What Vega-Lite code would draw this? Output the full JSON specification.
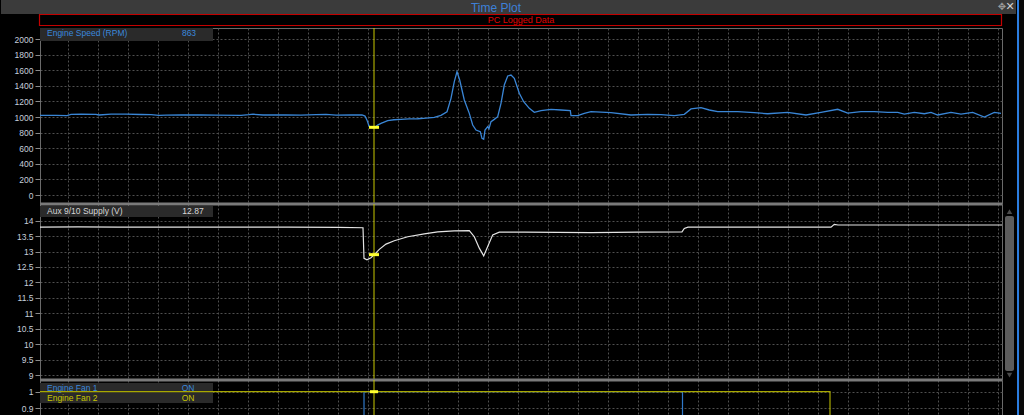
{
  "$schema": "https://vega.github.io/schema/vega-lite/v6.json",
  "background": "#000000",
  "padding": 0,
  "spacing": 0,
  "bounds": "flush",
  "resolve": {"scale": {"x": "independent", "y": "independent"}},
  "config": {
    "view": {"stroke": null},
    "font": "Liberation Sans",
    "axis": {"domain": false, "gridColor": "#4f4f4f", "gridDash": [2, 2], "gridWidth": 1, "tickColor": "#8a8a8a", "tickSize": 5, "labelColor": "#c6cedb", "labelFontSize": 8.5, "labelFont": "Liberation Sans", "labelPadding": 2, "title": null, "labelOverlap": false, "labelBound": false},
    "axisY": {"minExtent": 39, "maxExtent": 39}
  },
  "datasets": {
    "rpm": [
      {"t": 2, "rpm": 1020}, {"t": 18, "rpm": 1020}, {"t": 29, "rpm": 1018}, {"t": 33, "rpm": 1034}, {"t": 43, "rpm": 1036}, {"t": 58, "rpm": 1034}, {"t": 61, "rpm": 1026}, {"t": 73, "rpm": 1036}, {"t": 88, "rpm": 1036}, {"t": 103, "rpm": 1032}, {"t": 113, "rpm": 1030}, {"t": 121, "rpm": 1020}, {"t": 128, "rpm": 1024}, {"t": 143, "rpm": 1026}, {"t": 163, "rpm": 1026}, {"t": 178, "rpm": 1024}, {"t": 203, "rpm": 1022}, {"t": 211, "rpm": 1030}, {"t": 215, "rpm": 1036}, {"t": 225, "rpm": 1026}, {"t": 248, "rpm": 1026}, {"t": 263, "rpm": 1024}, {"t": 278, "rpm": 1030}, {"t": 288, "rpm": 1034}, {"t": 298, "rpm": 1024}, {"t": 313, "rpm": 1026}, {"t": 324, "rpm": 1026}, {"t": 327, "rpm": 1012}, {"t": 329, "rpm": 960}, {"t": 331, "rpm": 885}, {"t": 334, "rpm": 866}, {"t": 337, "rpm": 868}, {"t": 340, "rpm": 900}, {"t": 343, "rpm": 919}, {"t": 349.7, "rpm": 953}, {"t": 356, "rpm": 965}, {"t": 363, "rpm": 970}, {"t": 371, "rpm": 975}, {"t": 379.7, "rpm": 978}, {"t": 388, "rpm": 985}, {"t": 396.3, "rpm": 996}, {"t": 403, "rpm": 1021}, {"t": 409, "rpm": 1068}, {"t": 413, "rpm": 1239}, {"t": 416.3, "rpm": 1453}, {"t": 419, "rpm": 1581}, {"t": 421.7, "rpm": 1474}, {"t": 426.3, "rpm": 1218}, {"t": 431.3, "rpm": 1047}, {"t": 434.7, "rpm": 897}, {"t": 438, "rpm": 833}, {"t": 442.3, "rpm": 812}, {"t": 444, "rpm": 726}, {"t": 445.7, "rpm": 714}, {"t": 447, "rpm": 833}, {"t": 449.7, "rpm": 876}, {"t": 451, "rpm": 850}, {"t": 453, "rpm": 940}, {"t": 456.3, "rpm": 970}, {"t": 459.7, "rpm": 1004}, {"t": 463, "rpm": 1175}, {"t": 466.3, "rpm": 1410}, {"t": 469.7, "rpm": 1526}, {"t": 473, "rpm": 1538}, {"t": 476.3, "rpm": 1496}, {"t": 481.3, "rpm": 1304}, {"t": 485.7, "rpm": 1196}, {"t": 491.3, "rpm": 1111}, {"t": 496.3, "rpm": 1060}, {"t": 503, "rpm": 1081}, {"t": 513, "rpm": 1099}, {"t": 523, "rpm": 1090}, {"t": 532.3, "rpm": 1081}, {"t": 533, "rpm": 1017}, {"t": 539.7, "rpm": 1017}, {"t": 546.3, "rpm": 1047}, {"t": 553, "rpm": 1068}, {"t": 573, "rpm": 1055}, {"t": 593, "rpm": 1026}, {"t": 609.7, "rpm": 1034}, {"t": 623, "rpm": 1030}, {"t": 636.3, "rpm": 1017}, {"t": 646.3, "rpm": 1034}, {"t": 653, "rpm": 1103}, {"t": 663, "rpm": 1120}, {"t": 671.3, "rpm": 1090}, {"t": 679.7, "rpm": 1068}, {"t": 699.7, "rpm": 1068}, {"t": 716.3, "rpm": 1055}, {"t": 729.7, "rpm": 1042}, {"t": 749.7, "rpm": 1060}, {"t": 768, "rpm": 1026}, {"t": 783, "rpm": 1060}, {"t": 799.7, "rpm": 1099}, {"t": 809.7, "rpm": 1051}, {"t": 823, "rpm": 1068}, {"t": 836.3, "rpm": 1068}, {"t": 849.7, "rpm": 1060}, {"t": 859.7, "rpm": 1060}, {"t": 866.3, "rpm": 1038}, {"t": 876.3, "rpm": 1060}, {"t": 886.3, "rpm": 1042}, {"t": 893, "rpm": 1060}, {"t": 899.7, "rpm": 1026}, {"t": 913, "rpm": 1060}, {"t": 923, "rpm": 1038}, {"t": 934.7, "rpm": 1060}, {"t": 946.3, "rpm": 1000}, {"t": 956.3, "rpm": 1060}, {"t": 963, "rpm": 1047}
    ],
    "volt": [
      {"t": 2, "v": 13.79}, {"t": 40, "v": 13.8}, {"t": 80, "v": 13.79}, {"t": 150, "v": 13.79}, {"t": 250, "v": 13.79}, {"t": 300, "v": 13.78}, {"t": 325, "v": 13.77}, {"t": 326, "v": 12.78}, {"t": 329, "v": 12.73}, {"t": 333, "v": 12.8}, {"t": 336.3, "v": 12.9}, {"t": 341.3, "v": 13.07}, {"t": 348, "v": 13.24}, {"t": 356.3, "v": 13.35}, {"t": 369.7, "v": 13.48}, {"t": 386.3, "v": 13.57}, {"t": 399.7, "v": 13.64}, {"t": 416.3, "v": 13.67}, {"t": 431.3, "v": 13.68}, {"t": 436.3, "v": 13.48}, {"t": 441.3, "v": 13.11}, {"t": 445.7, "v": 12.86}, {"t": 449.7, "v": 13.16}, {"t": 454.7, "v": 13.54}, {"t": 461.3, "v": 13.63}, {"t": 486, "v": 13.63}, {"t": 553, "v": 13.61}, {"t": 600, "v": 13.63}, {"t": 644, "v": 13.64}, {"t": 646.3, "v": 13.75}, {"t": 650, "v": 13.79}, {"t": 700, "v": 13.79}, {"t": 793, "v": 13.79}, {"t": 796.3, "v": 13.88}, {"t": 800, "v": 13.86}, {"t": 964, "v": 13.86}
    ],
    "fan1": [
      {"t": 2, "on": 0}, {"t": 326, "on": 0}, {"t": 326.01, "on": 1}, {"t": 644.5, "on": 1}, {"t": 644.51, "on": 0}, {"t": 964, "on": 0}
    ],
    "fan2": [
      {"t": 2, "on": 1}, {"t": 792, "on": 1}, {"t": 792.01, "on": 0}, {"t": 964, "on": 0}
    ]
  },
  "vconcat": [
    {
      "width": 962,
      "height": 28,
      "view": {"stroke": null},
      "layer": [
        {"data": {"values": [{}]}, "mark": {"type": "rect", "color": "#3b3b3b"},
         "encoding": {"x": {"datum": -37, "type": "quantitative", "scale": {"domain": [2, 964], "nice": false, "zero": false}, "axis": null}, "x2": {"datum": 978}, "y": {"datum": 0, "type": "quantitative", "scale": {"domain": [0, 28], "reverse": true, "nice": false, "zero": false}, "axis": null}, "y2": {"datum": 14}}},
        {"data": {"values": [{}]}, "mark": {"type": "rect", "color": "#080808"},
         "encoding": {"x": {"datum": 981, "type": "quantitative"}, "x2": {"datum": 987}, "y": {"datum": 0, "type": "quantitative"}, "y2": {"datum": 415}}},
        {"data": {"values": [{}]}, "mark": {"type": "rect", "color": "#2b7de0"},
         "encoding": {"x": {"datum": 979, "type": "quantitative"}, "x2": {"datum": 981}, "y": {"datum": 0, "type": "quantitative"}, "y2": {"datum": 415}}},
        {"data": {"values": [{}]}, "mark": {"type": "rect", "fill": "#000000", "stroke": "#c40000", "strokeWidth": 1.2},
         "encoding": {"x": {"datum": 1.5, "type": "quantitative"}, "x2": {"datum": 963.5}, "y": {"datum": 14.5, "type": "quantitative"}, "y2": {"datum": 25.5}}},
        {"data": {"values": [{}]}, "mark": {"type": "text", "text": "Time Plot", "color": "#3d80d8", "fontSize": 12, "align": "center", "baseline": "middle", "font": "Liberation Sans"},
         "encoding": {"x": {"datum": 458, "type": "quantitative"}, "y": {"datum": 7.5, "type": "quantitative"}}},
        {"data": {"values": [{}]}, "mark": {"type": "text", "text": "PC Logged Data", "color": "#e00000", "fontSize": 9, "align": "center", "baseline": "middle", "font": "Liberation Sans"},
         "encoding": {"x": {"datum": 483, "type": "quantitative"}, "y": {"datum": 20, "type": "quantitative"}}},
        {"data": {"values": [{}]}, "mark": {"type": "text", "text": "✥", "color": "#9a9a9a", "fontSize": 10, "align": "center", "baseline": "middle", "font": "DejaVu Sans"},
         "encoding": {"x": {"datum": 964, "type": "quantitative"}, "y": {"datum": 6.5, "type": "quantitative"}}},
        {"data": {"values": [{}]}, "mark": {"type": "text", "text": "✕", "color": "#d0d0d0", "fontSize": 11, "align": "center", "baseline": "middle", "font": "DejaVu Sans", "fontWeight": "bold"},
         "encoding": {"x": {"datum": 972, "type": "quantitative"}, "y": {"datum": 6.5, "type": "quantitative"}}}
      ]
    },
    {
      "width": 962,
      "height": 176,
      "view": {"fill": "#000000", "stroke": "#6a6a6a", "strokeWidth": 1},
      "layer": [
        {"data": {"name": "rpm"}, "mark": {"type": "line", "color": "#3a86d6", "strokeWidth": 1.3, "clip": true},
         "encoding": {
           "x": {"field": "t", "type": "quantitative", "scale": {"domain": [2, 964], "nice": false, "zero": false}, "axis": {"values": [30, 60, 90, 120, 150, 180, 210, 240, 270, 300, 330, 360, 390, 420, 450, 480, 510, 540, 570, 600, 630, 660, 690, 720, 750, 780, 810, 840, 870, 900, 930, 960], "tickCount": 200, "grid": true, "labels": false, "ticks": false, "domain": false, "title": null}},
           "y": {"field": "rpm", "type": "quantitative", "scale": {"domain": [-115, 2141], "nice": false, "zero": false}, "axis": {"values": [0, 200, 400, 600, 800, 1000, 1200, 1400, 1600, 1800, 2000], "tickCount": 100, "format": "~f", "grid": true, "labelOverlap": false}}
         }},
        {"data": {"values": [{}]}, "mark": {"type": "rect", "color": "#2a2a2a"},
         "encoding": {"x": {"datum": 2, "type": "quantitative"}, "x2": {"datum": 175}, "y": {"datum": 2141, "type": "quantitative"}, "y2": {"datum": 1974}}},
        {"data": {"values": [{}]}, "mark": {"type": "text", "text": "Engine Speed (RPM)", "color": "#3a88dc", "fontSize": 8.5, "align": "left", "baseline": "middle"},
         "encoding": {"x": {"datum": 9, "type": "quantitative"}, "y": {"datum": 2083, "type": "quantitative"}}},
        {"data": {"values": [{}]}, "mark": {"type": "text", "text": "863", "color": "#3a88dc", "fontSize": 8.5, "align": "center", "baseline": "middle"},
         "encoding": {"x": {"datum": 151, "type": "quantitative"}, "y": {"datum": 2083, "type": "quantitative"}}},
        {"data": {"values": [{}]}, "mark": {"type": "rule", "color": "#c8c800", "strokeWidth": 1},
         "encoding": {"x": {"datum": 336, "type": "quantitative"}}},
        {"data": {"values": [{}]}, "mark": {"type": "rule", "color": "#ffff30", "strokeWidth": 3},
         "encoding": {"x": {"datum": 331, "type": "quantitative"}, "x2": {"datum": 341}, "y": {"datum": 868, "type": "quantitative"}}}
      ]
    },
    {
      "width": 962,
      "height": 176,
      "view": {"fill": "#000000", "stroke": "#6a6a6a", "strokeWidth": 1},
      "layer": [
        {"data": {"name": "volt"}, "mark": {"type": "line", "color": "#e4e4e4", "strokeWidth": 1.2, "clip": true},
         "encoding": {
           "x": {"field": "t", "type": "quantitative", "scale": {"domain": [2, 964], "nice": false, "zero": false}, "axis": {"values": [30, 60, 90, 120, 150, 180, 210, 240, 270, 300, 330, 360, 390, 420, 450, 480, 510, 540, 570, 600, 630, 660, 690, 720, 750, 780, 810, 840, 870, 900, 930, 960], "tickCount": 200, "grid": true, "labels": false, "ticks": false, "domain": false, "title": null}},
           "y": {"field": "v", "type": "quantitative", "scale": {"domain": [8.84, 14.54], "nice": false, "zero": false}, "axis": {"values": [9, 9.5, 10, 10.5, 11, 11.5, 12, 12.5, 13, 13.5, 14], "tickCount": 100, "format": "~f", "grid": true, "labelOverlap": false}}
         }},
        {"data": {"values": [{}]}, "mark": {"type": "rule", "color": "#7a7a7a", "strokeWidth": 3},
         "encoding": {"y": {"datum": 14.54, "type": "quantitative"}}},
        {"data": {"values": [{}]}, "mark": {"type": "rect", "color": "#2a2a2a"},
         "encoding": {"x": {"datum": 2, "type": "quantitative"}, "x2": {"datum": 175}, "y": {"datum": 14.476, "type": "quantitative"}, "y2": {"datum": 14.12}}},
        {"data": {"values": [{}]}, "mark": {"type": "text", "text": "Aux 9/10 Supply (V)", "color": "#d6d6d6", "fontSize": 8.5, "align": "left", "baseline": "middle"},
         "encoding": {"x": {"datum": 9, "type": "quantitative"}, "y": {"datum": 14.3, "type": "quantitative"}}},
        {"data": {"values": [{}]}, "mark": {"type": "text", "text": "12.87", "color": "#d6d6d6", "fontSize": 8.5, "align": "center", "baseline": "middle"},
         "encoding": {"x": {"datum": 155, "type": "quantitative"}, "y": {"datum": 14.3, "type": "quantitative"}}},
        {"data": {"values": [{}]}, "mark": {"type": "rule", "color": "#c8c800", "strokeWidth": 1},
         "encoding": {"x": {"datum": 336, "type": "quantitative"}}},
        {"data": {"values": [{}]}, "mark": {"type": "rule", "color": "#ffff30", "strokeWidth": 3},
         "encoding": {"x": {"datum": 331, "type": "quantitative"}, "x2": {"datum": 341}, "y": {"datum": 12.9, "type": "quantitative"}}},
        {"data": {"values": [{}]}, "mark": {"type": "rect", "color": "#5c5c5c", "cornerRadius": 2},
         "encoding": {"x": {"datum": 967, "type": "quantitative"}, "x2": {"datum": 976}, "y": {"datum": 14.15, "type": "quantitative"}, "y2": {"datum": 9.13}}},
        {"data": {"values": [{}]}, "mark": {"type": "point", "shape": "triangle-up", "filled": true, "color": "#6a6a6a", "size": 30},
         "encoding": {"x": {"datum": 971.5, "type": "quantitative"}, "y": {"datum": 14.29, "type": "quantitative"}}},
        {"data": {"values": [{}]}, "mark": {"type": "point", "shape": "triangle-down", "filled": true, "color": "#6a6a6a", "size": 30},
         "encoding": {"x": {"datum": 971.5, "type": "quantitative"}, "y": {"datum": 9.0, "type": "quantitative"}}}
      ]
    },
    {
      "width": 962,
      "height": 35,
      "view": {"fill": "#000000", "stroke": "#6a6a6a", "strokeWidth": 1},
      "layer": [
        {"data": {"values": [{}]}, "mark": {"type": "rect", "color": "#2a2a2a"},
         "encoding": {
           "x": {"datum": 2, "type": "quantitative", "scale": {"domain": [2, 964], "nice": false, "zero": false}, "axis": {"values": [30, 60, 90, 120, 150, 180, 210, 240, 270, 300, 330, 360, 390, 420, 450, 480, 510, 540, 570, 600, 630, 660, 690, 720, 750, 780, 810, 840, 870, 900, 930, 960], "tickCount": 200, "grid": true, "labels": false, "ticks": false, "domain": false, "title": null}},
           "x2": {"datum": 175},
           "y": {"datum": 1.0524, "type": "quantitative", "scale": {"domain": [0.8596, 1.0705], "nice": false, "zero": false}, "axis": {"values": [0.9, 1], "tickCount": 100, "format": "~f", "grid": true, "labelOverlap": false}},
           "y2": {"datum": 0.932}
         }},
        {"data": {"values": [{}]}, "mark": {"type": "text", "text": "Engine Fan 1", "color": "#3a88dc", "fontSize": 8.5, "align": "left", "baseline": "middle"},
         "encoding": {"x": {"datum": 9, "type": "quantitative"}, "y": {"datum": 1.0223, "type": "quantitative"}}},
        {"data": {"values": [{}]}, "mark": {"type": "text", "text": "ON", "color": "#3a88dc", "fontSize": 8.5, "align": "center", "baseline": "middle"},
         "encoding": {"x": {"datum": 150, "type": "quantitative"}, "y": {"datum": 1.0223, "type": "quantitative"}}},
        {"data": {"values": [{}]}, "mark": {"type": "text", "text": "Engine Fan 2", "color": "#c8c800", "fontSize": 8.5, "align": "left", "baseline": "middle"},
         "encoding": {"x": {"datum": 9, "type": "quantitative"}, "y": {"datum": 0.965, "type": "quantitative"}}},
        {"data": {"values": [{}]}, "mark": {"type": "text", "text": "ON", "color": "#c8c800", "fontSize": 8.5, "align": "center", "baseline": "middle"},
         "encoding": {"x": {"datum": 150, "type": "quantitative"}, "y": {"datum": 0.965, "type": "quantitative"}}},
        {"data": {"name": "fan1"}, "mark": {"type": "line", "color": "#2f78c8", "strokeWidth": 1.2, "clip": true},
         "encoding": {"x": {"field": "t", "type": "quantitative"}, "y": {"field": "on", "type": "quantitative"}}},
        {"data": {"name": "fan2"}, "mark": {"type": "line", "color": "#a8a800", "strokeWidth": 1.2, "clip": true},
         "encoding": {"x": {"field": "t", "type": "quantitative"}, "y": {"field": "on", "type": "quantitative"}}},
        {"data": {"values": [{}]}, "mark": {"type": "rule", "color": "#7a7a7a", "strokeWidth": 3},
         "encoding": {"y": {"datum": 1.0705, "type": "quantitative"}}},
        {"data": {"values": [{}]}, "mark": {"type": "rule", "color": "#c8c800", "strokeWidth": 1},
         "encoding": {"x": {"datum": 336, "type": "quantitative"}}},
        {"data": {"values": [{}]}, "mark": {"type": "rule", "color": "#ffff30", "strokeWidth": 3},
         "encoding": {"x": {"datum": 332, "type": "quantitative"}, "x2": {"datum": 340}, "y": {"datum": 1, "type": "quantitative"}}}
      ]
    }
  ]
}
